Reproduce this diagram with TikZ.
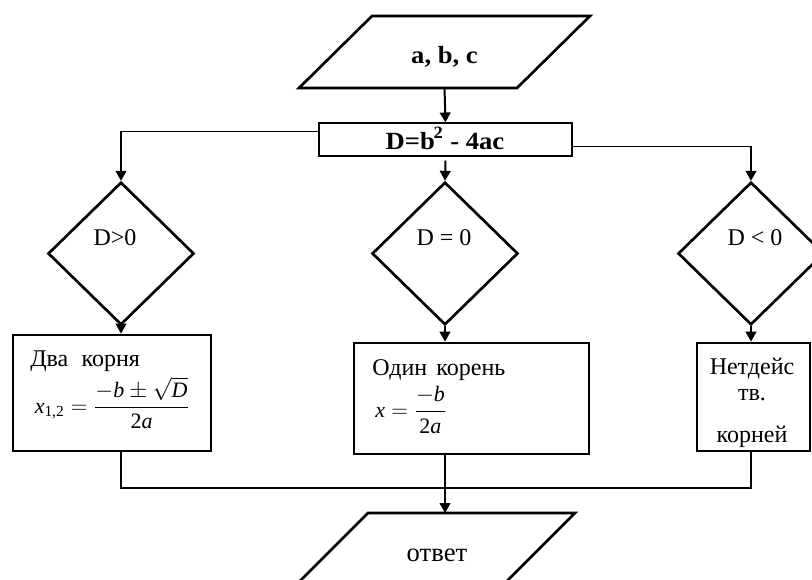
\documentclass[tikz,border=0pt]{standalone}
\usepackage{amsmath}
\usepackage{fontspec}
\setmainfont{Liberation Serif}
\newfontfamily\headfont{Liberation Serif}[FakeStretch=1.08]
\usetikzlibrary{shapes.geometric,arrows.meta,calc}

\begin{document}
	\begin{tikzpicture}[x = 0.75pt, y = -0.75pt,
		box/.style = {draw, line width = 2pt, rectangle, inner sep = 0pt},
		thinbox/.style = {draw, line width = 0.8pt, rectangle, inner sep = 0pt},
		cond/.style = {draw, line width = 2pt, diamond, inner sep = 0pt, minimum width = 109.5pt, minimum height = 107pt},
		wire/.style = {line width = 0.8pt},
		go/.style = {line width = 1.5pt, -{Triangle[length = 7.5pt, width = 8pt]}},
		txt/.style = {font = \fontsize{18}{21}\selectfont, inner sep = 0pt},
		head/.style = {font = \headfont\bfseries\fontsize{18.5}{21}\selectfont, inner sep = 0pt},
		frm/.style = {font = \fontsize{16.5}{19}\selectfont, inner sep = 0pt}]
		\useasboundingbox (0, 0) rectangle (812, 580);
		\clip (0, 0) rectangle (812, 580);
		%%%%%%%%%
		\coordinate (inC) at (444.5, 52);
		\draw[line width = 2pt] ($(inC)+(-72.5, -36)$) -- ($(inC)+(145.5, -36)$) -- ($(inC)+(72.5, 36)$) -- ($(inC)+(-145.5, 36)$) -- cycle;
		\node[head, anchor = base] (abc) at (444.5, 64) {a, b, c};
		\coordinate (inS) at ($(inC)+(0, 36)$);
		\node[thinbox, minimum width = 189.75pt, minimum height = 24.75pt] (disc) at (445.5, 139.5) {};
		\node[head, anchor = base] (disctxt) at (445, 150) {D=b\kern-1pt\raisebox{2pt}{\textsuperscript{2}} - 4ac};
		\draw[go] (inS) -- (disc.north);
		%%%%%%%%%
		\node[cond] (dpos) at (121, 253.5) {};
		\node[txt, anchor = base] (tpos) at (115, 246) {D>0};
		\node[cond] (dzero) at (445, 253.5) {};
		\node[txt, anchor = base] (tzero) at (444, 246) {D = 0};
		\node[cond] (dneg) at (751, 253.5) {};
		\node[txt, anchor = base] (tneg) at (755, 246) {D < 0};
		\draw[wire] ([yshift = 6pt]disc.west) -- ([yshift = 6pt]disc.west -| dpos.north) coordinate (lturn);
		\draw[go] (lturn) -- (dpos.north);
		\draw[go] ([yshift = -3pt]disc.south) -- (dzero.north);
		\draw[wire] ([yshift = -5.25pt]disc.east) -- ([yshift = -5.25pt]disc.east -| dneg.north) coordinate (rturn);
		\draw[go] (rturn) -- (dneg.north);
		%%%%%%%%%
		\node[box, minimum width = 148.5pt, minimum height = 87pt] (lbox) at (112, 393) {};
		\node[box, minimum width = 176.25pt, minimum height = 83.25pt] (mbox) at (471.5, 398.5) {};
		\node[box, minimum width = 84.75pt, minimum height = 81pt] (rbox) at (753.5, 397) {};
		\draw[go] (dpos.south) -- (dpos |- lbox.north);
		\draw[go] (dzero.south) -- (dzero |- mbox.north);
		\draw[go] (dneg.south) -- (dneg |- rbox.north);
		\node[txt, anchor = base west] (ltitle) at (30, 366) {Два\hspace{10pt}корня};
		\node[frm] (lform) at (112, 403) {$\displaystyle \textit{x}_{\text{1,2}}=\frac{-\textit{b}\pm\sqrt{\textit{D}}}{\text{2}\textit{a}}$};
		\node[txt, anchor = base west] (mtitle) at (372, 375) {Один\hspace{7pt}корень};
		\node[frm, anchor = west] (mform) at (375, 410) {$\displaystyle \textit{x}=\frac{-\textit{b}}{\text{2}\textit{a}}$};
		\node[txt, anchor = base] (rl1) at (752, 374) {Нетдейс};
		\node[txt, anchor = base] (rl2) at (752, 400) {тв.};
		\node[txt, anchor = base] (rl3) at (752, 442) {корней};
		%%%%%%%%%
		\coordinate (join) at (445, 488);
		\draw[wire] (dpos |- lbox.south) |- (join) -| (dneg |- rbox.south);
		\coordinate (outC) at (436, 549);
		\coordinate (outT) at ($(outC)+(0, -36)$);
		\draw[line width = 2pt] ($(outC)+(-68, -36)$) -- ($(outC)+(139, -36)$) -- ($(outC)+(67, 36)$) -- ($(outC)+(-140, 36)$) -- cycle;
		\node[txt, anchor = base, font = \fontsize{20}{22}\selectfont] (ans) at (437, 561) {ответ};
		\draw[go] (dzero |- mbox.south) -- (dzero |- outT);
	\end{tikzpicture}
\end{document}
